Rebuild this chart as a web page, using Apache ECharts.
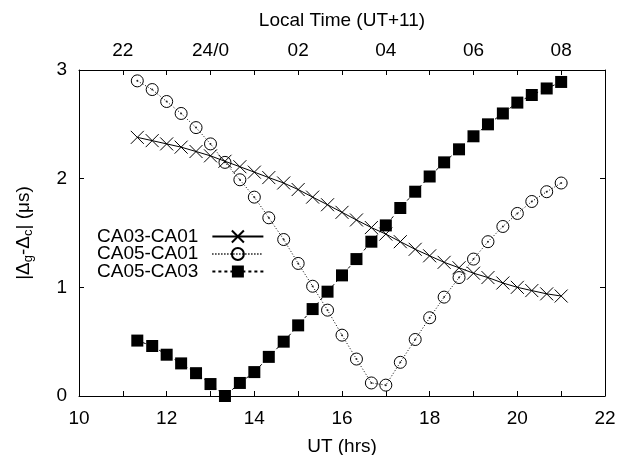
<!DOCTYPE html>
<html>
<head>
<meta charset="utf-8">
<script src="https://cdn.jsdelivr.net/npm/echarts@6/dist/echarts.min.js"></script>
<style>
  html, body { margin: 0; padding: 0; background: #fff; }
  #chart { width: 619px; height: 455px; }
</style>
</head>
<body>
<div id="chart"></div>
<script>
// UT (hrs) of each measurement, every 20 minutes
var utHours = [11.33, 11.67, 12.00, 12.33, 12.67, 13.00, 13.33, 13.67, 14.00, 14.33,
  14.67, 15.00, 15.33, 15.67, 16.00, 16.33, 16.67, 17.00, 17.33, 17.67,
  18.00, 18.33, 18.67, 19.00, 19.33, 19.67, 20.00, 20.33, 20.67, 21.00];

var ca03ca01 = [2.38, 2.35, 2.32, 2.29, 2.25, 2.21, 2.16, 2.11, 2.06, 2.01,
  1.96, 1.90, 1.83, 1.76, 1.69, 1.62, 1.55, 1.49, 1.42, 1.35,
  1.29, 1.23, 1.18, 1.13, 1.09, 1.04, 1.00, 0.97, 0.94, 0.92];

var ca05ca01 = [2.90, 2.82, 2.71, 2.60, 2.47, 2.32, 2.15, 1.99, 1.83, 1.64,
  1.44, 1.22, 1.01, 0.79, 0.56, 0.34, 0.12, 0.10, 0.31, 0.52,
  0.72, 0.91, 1.09, 1.26, 1.42, 1.56, 1.68, 1.79, 1.88, 1.96];

var ca05ca03 = [0.51, 0.46, 0.38, 0.30, 0.21, 0.11, 0.00, 0.12, 0.22, 0.36,
  0.50, 0.65, 0.80, 0.96, 1.11, 1.26, 1.42, 1.57, 1.73, 1.88,
  2.02, 2.15, 2.27, 2.39, 2.50, 2.60, 2.70, 2.77, 2.83, 2.89];

var seriesNames = ['CA03-CA01', 'CA05-CA01', 'CA05-CA03'];

// tick labels
var utLabels = [10, 12, 14, 16, 18, 20, 22];
var localTicks = [11, 13, 15, 17, 19, 21];
var localLabels = ['22', '24/0', '02', '04', '06', '08'];
var yLabels = [0, 1, 2, 3];

var FONT = 'Liberation Sans, Arial, Helvetica, sans-serif';

function pairs(vals) {
  return utHours.map(function (t, i) { return [t, vals[i]] })
}

var axisCommon = {
  type: 'value',
  min: 10,
  max: 22,
  interval: 1,
  axisLine: { show: true, onZero: false, lineStyle: { color: '#000', width: 1 } },
  axisTick: { show: true, inside: true, length: 5, lineStyle: { color: '#000' } },
  splitLine: { show: false },
  nameLocation: 'middle',
  nameTextStyle: { color: '#000', fontSize: 19, fontFamily: FONT }
}

var chart = echarts.init(document.getElementById('chart'))
var option = {
  backgroundColor: '#fff',
  animation: false,
  textStyle: { fontFamily: FONT },
  grid: { left: 79, right: 14, top: 70, bottom: 59, containLabel: false, outerBoundsMode: 'none' },
  legend: {
    orient: 'vertical',
    left: 97,
    top: 227,
    padding: 0,
    align: 'right',
    itemWidth: 51,
    itemHeight: 15,
    itemGap: -1.5,
    data: seriesNames,
    textStyle: { color: '#000', fontSize: 19, lineHeight: 16, fontFamily: FONT, padding: [0, 9, 0, 0] }
  },
  xAxis: [
    Object.assign({}, axisCommon, {
      position: 'bottom',
      name: 'UT (hrs)',
      nameGap: 41,
      axisLabel: {
        color: '#000', fontSize: 19, fontFamily: FONT, margin: 13,
        formatter: function (v) { return utLabels.indexOf(v) >= 0 ? String(v) : '' }
      }
    }),
    Object.assign({}, axisCommon, {
      position: 'top',
      name: 'Local Time (UT+11)',
      nameGap: 40,
      axisLabel: {
        color: '#000', fontSize: 19, fontFamily: FONT, margin: 10,
        formatter: function (v) {
          var k = localTicks.indexOf(v)
          return k >= 0 ? localLabels[k] : ''
        }
      }
    })
  ],
  yAxis: [
    {
      type: 'value',
      min: 0,
      max: 3,
      interval: 1,
      position: 'left',
      axisLine: { show: true, onZero: false, lineStyle: { color: '#000', width: 1 } },
      axisTick: { show: true, inside: true, length: 5, lineStyle: { color: '#000' } },
      splitLine: { show: false },
      axisLabel: {
        color: '#000', fontSize: 19, fontFamily: FONT, margin: 12,
        formatter: function (v) { return yLabels.indexOf(v) >= 0 ? String(v) : '' }
      },
      name: '|Δ{sub|g}-Δ{sub|c}| (μs)',
      nameLocation: 'middle',
      nameGap: 44,
      nameTextStyle: {
        color: '#000', fontSize: 19, fontFamily: FONT,
        rich: {
          sub: { fontSize: 13, color: '#000', fontFamily: FONT, verticalAlign: 'bottom', padding: [9, 0, 0, 0] }
        }
      }
    },
    {
      type: 'value',
      min: 0,
      max: 3,
      interval: 1,
      position: 'right',
      axisLine: { show: true, onZero: false, lineStyle: { color: '#000', width: 1 } },
      axisTick: { show: true, inside: true, length: 5, lineStyle: { color: '#000' } },
      splitLine: { show: false },
      axisLabel: { show: false }
    }
  ],
  series: [
    {
      name: seriesNames[0],
      type: 'line',
      data: pairs(ca03ca01),
      symbol: 'path://M0,0L10,10M10,0L0,10',
      symbolSize: 13,
      showAllSymbol: true,
      lineStyle: { color: '#000', width: 1, type: 'solid' },
      itemStyle: { color: 'rgba(0,0,0,0)', borderColor: '#000', borderWidth: 1 },
      z: 3
    },
    {
      name: seriesNames[1],
      type: 'line',
      data: pairs(ca05ca01),
      symbol: 'path://M0,10A10,10,0,1,1,20,10A10,10,0,1,1,0,10Z',
      symbolSize: 12,
      showAllSymbol: true,
      lineStyle: { color: '#000', width: 1, type: [1, 2] },
      itemStyle: { color: 'rgba(0,0,0,0)', borderColor: '#000', borderWidth: 1 },
      z: 3
    },
    {
      // centre dots of the open circles (not in legend)
      name: 'dots',
      type: 'scatter',
      data: pairs(ca05ca01),
      symbol: 'circle',
      symbolSize: 2,
      silent: true,
      itemStyle: { color: '#000' },
      z: 4
    },
    {
      name: seriesNames[2],
      type: 'line',
      data: pairs(ca05ca03),
      symbol: 'rect',
      symbolSize: 12,
      showAllSymbol: true,
      lineStyle: { color: '#000', width: 1, type: [3, 3] },
      itemStyle: { color: '#000' },
      z: 2
    }
  ]
}
chart.setOption(option)
</script>
</body>
</html>
